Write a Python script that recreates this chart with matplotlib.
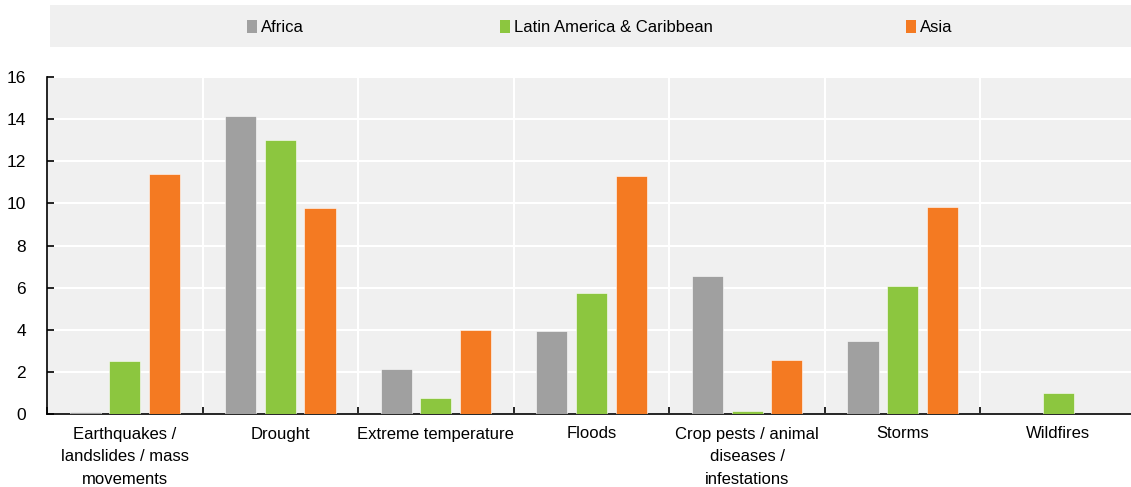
import numpy as np
import matplotlib
matplotlib.use("Agg")
import matplotlib.pyplot as plt
from matplotlib.patches import Rectangle

categories = [
    "Earthquakes /\nlandslides / mass\nmovements",
    "Drought",
    "Extreme temperature",
    "Floods",
    "Crop pests / animal\ndiseases /\ninfestations",
    "Storms",
    "Wildfires",
]
series_names = ["Africa", "Latin America & Caribbean", "Asia"]
africa = [0.1, 14.15, 2.15, 3.95, 6.55, 3.45, 0.0]
latam = [2.5, 13.0, 0.75, 5.75, 0.15, 6.1, 1.0]
asia = [11.4, 9.8, 4.0, 11.3, 2.55, 9.85, 0.0]
colors = ["#A0A0A0", "#8CC63F", "#F47A22"]
yticks = [0, 2, 4, 6, 8, 10, 12, 14, 16]

plt.rcParams["font.family"] = ["Liberation Sans Narrow", "Liberation Sans", "DejaVu Sans"]
plt.rcParams["font.size"] = 12

W, H = 1131, 487
fig = plt.figure(figsize=(W / 100, H / 100), dpi=100)
ax = fig.add_axes([47 / W, 1 - 414 / H, (1136 - 47) / W, (414 - 77) / H])
ax.set_facecolor("#F0F0F0")

x = np.arange(len(categories))
width = 0.2
step = 0.255
for i, (vals, name) in enumerate(zip([africa, latam, asia], series_names)):
    ax.bar(x + (i - 1) * step, vals, width, color=colors[i], label=name,
           zorder=3, edgecolor="white", linewidth=0.4)

ax.set_ylim(0, 16)
ax.set_xlim(-0.5, len(categories) - 0.5)
ax.set_yticks(yticks)
ax.set_xticks(x)
ax.set_xticklabels(categories, linespacing=1.65)
ax.set_xticks(np.arange(len(categories) + 1) - 0.5, minor=True)

ax.grid(axis="y", color="white", linewidth=1.5, zorder=1)
ax.grid(axis="x", which="minor", color="white", linewidth=1.5, zorder=1)
ax.tick_params(axis="x", which="major", length=0, pad=9)
ax.tick_params(axis="x", which="minor", direction="in", length=5, width=1.2)
ax.tick_params(axis="y", direction="in", length=5, width=1.2, pad=15,
               labelsize=12.5)
for s in ["top", "right"]:
    ax.spines[s].set_visible(False)
ax.spines["left"].set_linewidth(1.2)
ax.spines["bottom"].set_linewidth(1.2)

# legend band
fig.patches.append(Rectangle((50 / W, 1 - 47 / H), (W - 50) / W, 42 / H,
                             transform=fig.transFigure, facecolor="#F0F0F0",
                             edgecolor="none", zorder=0))
leg_x = [247, 500, 906]
for lx, name, c in zip(leg_x, series_names, colors):
    fig.patches.append(Rectangle((lx / W, 1 - 33 / H), 10 / W, 13 / H,
                                 transform=fig.transFigure, facecolor=c,
                                 edgecolor="none", zorder=1))
    fig.text((lx + 14) / W, 1 - 27 / H, name, va="center", ha="left", fontsize=12)

fig.savefig("out.png", dpi=100)
